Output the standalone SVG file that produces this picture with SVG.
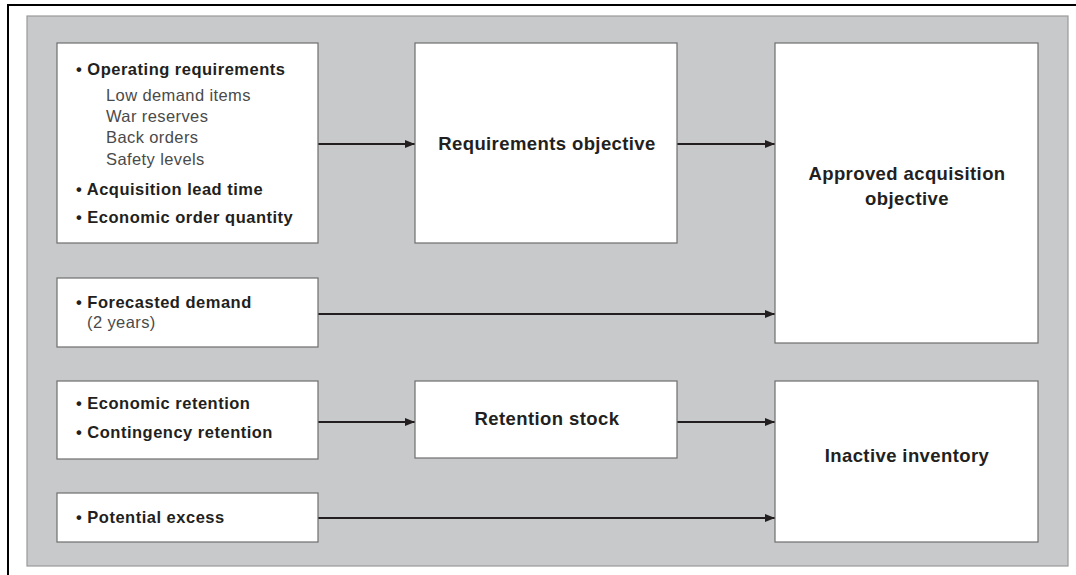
<svg xmlns="http://www.w3.org/2000/svg" width="1076" height="575" viewBox="0 0 1076 575">
<style>
.box{fill:#ffffff;stroke:#6e6e6e;stroke-width:1.2}
.b{font-family:"Liberation Sans",Arial,sans-serif;font-weight:bold;font-size:16.5px;letter-spacing:0.5px;fill:#231f20}
.r{font-family:"Liberation Sans",Arial,sans-serif;font-size:16.5px;letter-spacing:0.4px;fill:#4a4a4a}
.c{text-anchor:middle;font-size:18.5px;letter-spacing:0.4px}
.conn line{stroke:#231f20;stroke-width:2;marker-end:url(#ah)}
</style>
<defs>
<marker id="ah" markerWidth="10" markerHeight="8" refX="10" refY="4" orient="auto" markerUnits="userSpaceOnUse">
<path d="M0,0 L10,4 L0,8 Z" fill="#231f20"/>
</marker>
</defs>
<rect width="1076" height="575" fill="#ffffff"/>
<line x1="8" y1="5" x2="1076" y2="5" stroke="#000" stroke-width="2"/>
<line x1="8" y1="4" x2="8" y2="575" stroke="#000" stroke-width="2"/>
<rect x="27" y="16" width="1041" height="550" fill="#c8c9cb" stroke="#9a9a9a" stroke-width="1.2"/>
<g class="conn">
<line x1="318" y1="144" x2="415" y2="144"/>
<line x1="677" y1="144" x2="775" y2="144"/>
<line x1="318" y1="314" x2="775" y2="314"/>
<line x1="318" y1="422" x2="415" y2="422"/>
<line x1="677" y1="422" x2="775" y2="422"/>
<line x1="318" y1="518" x2="775" y2="518"/>
</g>
<g id="n-inputs1">
<rect class="box" x="57" y="43" width="261" height="200"/>
<text class="b" x="76" y="75">• Operating requirements</text>
<text class="r" x="106" y="101">Low demand items</text>
<text class="r" x="106" y="122">War reserves</text>
<text class="r" x="106" y="143">Back orders</text>
<text class="r" x="106" y="165">Safety levels</text>
<text class="b" x="76" y="195">• Acquisition lead time</text>
<text class="b" x="76" y="223">• Economic order quantity</text>
</g>
<g id="n-reqobj">
<rect class="box" x="415" y="43" width="262" height="200"/>
<text class="b c" x="547" y="150">Requirements objective</text>
</g>
<g id="n-approved">
<rect class="box" x="775" y="43" width="263" height="300"/>
<text class="b c" x="907" y="180">Approved acquisition</text>
<text class="b c" x="907" y="205">objective</text>
</g>
<g id="n-forecast">
<rect class="box" x="57" y="278" width="261" height="69"/>
<text class="b" x="76" y="308">• Forecasted demand</text>
<text class="r" x="87" y="328">(2 years)</text>
</g>
<g id="n-retention-inputs">
<rect class="box" x="57" y="381" width="261" height="78"/>
<text class="b" x="76" y="409">• Economic retention</text>
<text class="b" x="76" y="438">• Contingency retention</text>
</g>
<g id="n-potential">
<rect class="box" x="57" y="493" width="261" height="49"/>
<text class="b" x="76" y="523">• Potential excess</text>
</g>
<g id="n-retstock">
<rect class="box" x="415" y="381" width="262" height="77"/>
<text class="b c" x="547" y="425">Retention stock</text>
</g>
<g id="n-inactive">
<rect class="box" x="775" y="381" width="263" height="161"/>
<text class="b c" x="907" y="462">Inactive inventory</text>
</g>
</svg>
